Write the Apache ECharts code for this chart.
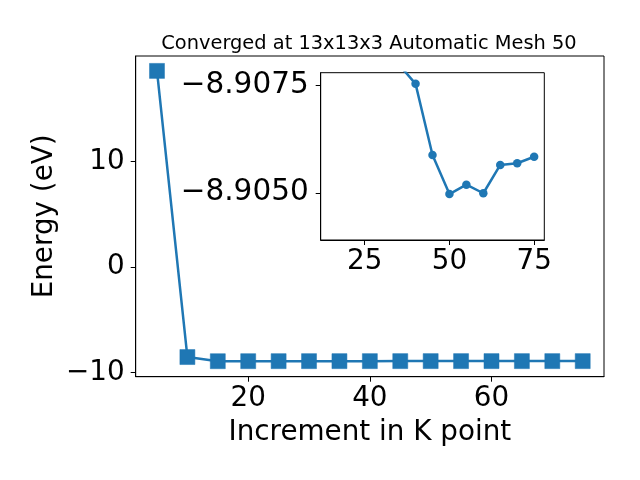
<!DOCTYPE html>
<html>
<head>
<meta charset="utf-8">
<script src="https://cdn.jsdelivr.net/npm/echarts@6/dist/echarts.min.js"></script>
<style>html,body{margin:0;padding:0;background:#fff;}#c{width:640px;height:480px;}</style>
</head>
<body>
<div id="c"></div>
<script>
var kpoints = [5, 10, 15, 20, 25, 30, 35, 40, 45, 50, 55, 60, 65, 70, 75];
var energy = [18.55, -8.52, -8.915, -8.912, -8.910, -8.909, -8.908, -8.90754, -8.90588, -8.90497, -8.90519, -8.90499, -8.90565, -8.90569, -8.90584];
var mainXTicks = [20, 40, 60];
var mainYTicks = [-10, 0, 10];
var insetXTicks = [25, 50, 75];
var insetYTicks = [-8.9075, -8.9050];
var titleText = 'Converged at 13x13x3 Automatic Mesh 50';
var xName = 'Increment in K point';
var yName = 'Energy (eV)';

var FONT = 'DejaVu Sans';
var C = '#1f77b4';
function minus(s){ return String(s).replace('-', '\u2212'); }

var mainData = kpoints.map(function(k, i){ return [k, energy[i]]; });
var insetData = kpoints.slice(2).map(function(k, i){ return [k, energy[i + 2]]; });

var chart = echarts.init(document.getElementById('c'), null, {renderer: 'canvas'});
var axisCommon = {
  axisLine: {show: true, onZero: false, lineStyle: {color: '#000', width: 1}},
  splitLine: {show: false}
};
chart.setOption({
  animation: false,
  backgroundColor: '#fff',
  title: {
    text: titleText, left: 364, top: 29, textAlign: 'center',
    textStyle: {fontFamily: FONT, fontSize: 19.4, fontWeight: 'normal', color: '#000'}
  },
  grid: [
    {left: 135.7, right: 36, top: 56, bottom: 103.3, show: true, borderColor: '#000', borderWidth: 1, backgroundColor: '#fff'},
    {left: 320.7, right: 95.7, top: 72.7, bottom: 240, show: true, borderColor: '#000', borderWidth: 1, backgroundColor: '#fff'}
  ],
  xAxis: [
    Object.assign({}, axisCommon, {
      type: 'value', gridIndex: 0, min: 1.5, max: 78.5,
      name: xName, nameLocation: 'middle', nameGap: 42, nameMoveOverlap: false,
      nameTextStyle: {fontFamily: FONT, fontSize: 27.8, color: '#000'},
      axisTick: {show: true, length: 5, lineStyle: {color: '#000'}, customValues: mainXTicks},
      axisLabel: {fontFamily: FONT, fontSize: 27.8, color: '#000', margin: 8, customValues: mainXTicks, formatter: minus}
    }),
    Object.assign({}, axisCommon, {
      type: 'value', gridIndex: 1, min: 12, max: 78,
      axisTick: {show: true, length: 5, lineStyle: {color: '#000'}, customValues: insetXTicks},
      axisLabel: {fontFamily: FONT, fontSize: 27.8, color: '#000', margin: 8, customValues: insetXTicks, formatter: minus}
    })
  ],
  yAxis: [
    Object.assign({}, axisCommon, {
      type: 'value', gridIndex: 0, min: -10.38, max: 19.96,
      name: yName, nameLocation: 'middle', nameGap: 77, nameRotate: 90, nameMoveOverlap: false,
      nameTextStyle: {fontFamily: FONT, fontSize: 27.8, color: '#000'},
      axisTick: {show: true, length: 5, lineStyle: {color: '#000'}, customValues: mainYTicks},
      axisLabel: {fontFamily: FONT, fontSize: 27.8, color: '#000', margin: 11, customValues: mainYTicks, formatter: minus}
    }),
    Object.assign({}, axisCommon, {
      type: 'value', gridIndex: 1, min: -8.9078, max: -8.9039, inverse: true,
      axisTick: {show: true, length: 5, lineStyle: {color: '#000'}, customValues: insetYTicks},
      axisLabel: {fontFamily: FONT, fontSize: 29.5, color: '#000', margin: 12, customValues: insetYTicks,
        formatter: function(v){ return minus(Number(v).toFixed(4)); }}
    })
  ],
  series: [
    {type: 'line', xAxisIndex: 0, yAxisIndex: 0, data: mainData, symbol: 'rect', symbolSize: 15,
      lineStyle: {color: C, width: 2.5}, itemStyle: {color: C, borderColor: C, borderWidth: 0.5}, z: 3},
    {type: 'line', xAxisIndex: 1, yAxisIndex: 1, data: insetData, symbol: 'circle', symbolSize: 8.5,
      lineStyle: {color: C, width: 2.5}, itemStyle: {color: C, borderWidth: 0}, clip: true, z: 3}
  ]
});
</script>
</body>
</html>
